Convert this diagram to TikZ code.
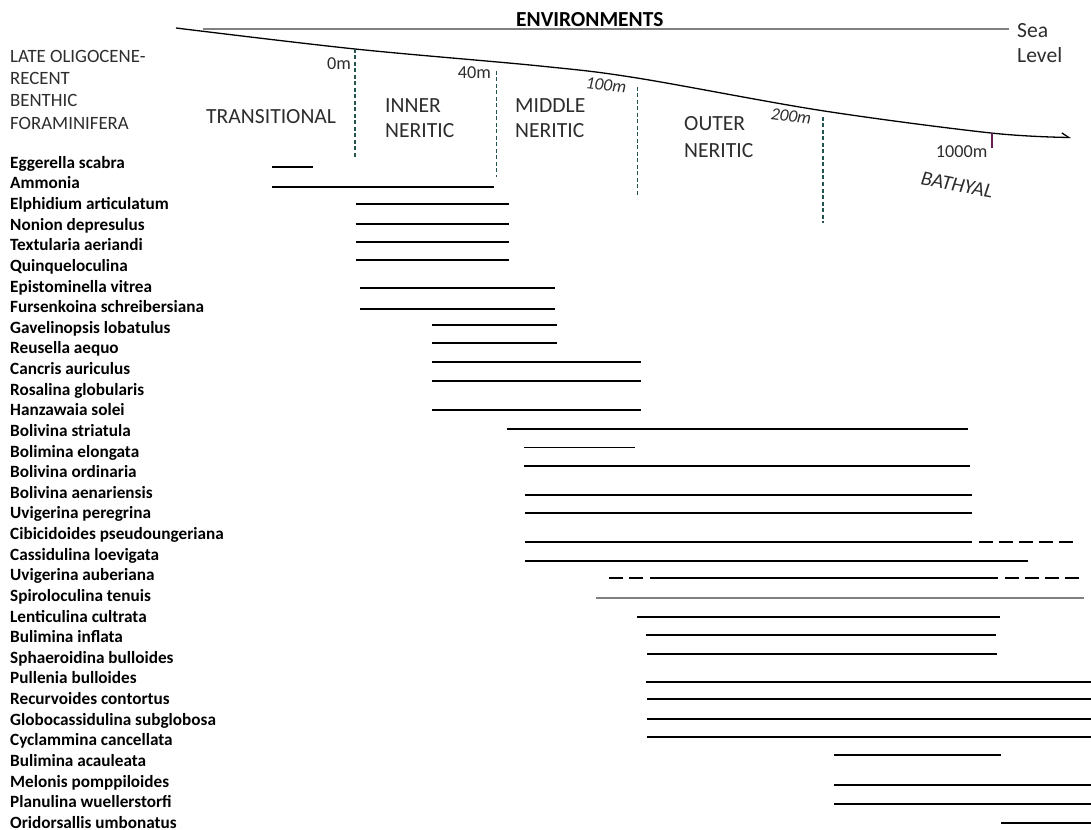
\documentclass[tikz,border=0pt]{standalone}
\usepackage{fontspec}
\setmainfont{Carlito}
\usepackage{tikz}
\usetikzlibrary{arrows.meta}
\usepackage{xcolor}
\definecolor{depthline}{RGB}{35,85,80}
\definecolor{ticktone}{RGB}{100,30,80}
\definecolor{headtext}{RGB}{45,45,45}

\begin{document}
\begin{tikzpicture}[x=1pt,y=-1pt,
			species/.style={anchor=base west,inner sep=0pt,font=\fontsize{17.2}{20}\selectfont\bfseries},
			envlabel/.style={anchor=base west,inner sep=0pt,text=headtext,font=\fontsize{21.6}{24}\selectfont},
			headlabel/.style={anchor=base west,inner sep=0pt,text=headtext,font=\fontsize{18.8}{22}\selectfont},
			depth/.style={inner sep=0pt,text=headtext,font=\fontsize{18.2}{20}\selectfont},
			rangebar/.style={line width=1.7pt},
			boundary/.style={depthline,line width=1.6pt,dash pattern=on 4pt off 2.5pt}]
			\useasboundingbox (0,0) rectangle (1091,829);
			\tikzstyle{gapped}=[rangebar,dash pattern=on 13.5pt off 6.5pt]
			\draw[gray,line width=1.2pt] (203,29) -- (1009,29);
			\node[anchor=base west,inner sep=0pt,font=\fontsize{21.4}{24}\selectfont\bfseries] (env) at (516,27) {ENVIRONMENTS};
			\node[envlabel] (sea) at (1017,37.3) {Sea};
			\node[envlabel] (level) at (1017,62.3) {Level};
			\draw[line width=1.3pt,-{Straight Barb[left,length=7pt,width=9pt]}] plot[smooth,tension=0.55] coordinates {(176,28) (355,49) (540,66) (637,78) (821,110.5) (991,133) (1071,137.5)};
			\node[headlabel] (late) at (10,62.7) {LATE OLIGOCENE-};
			\node[headlabel] (recent) at (10,84.7) {RECENT};
			\node[headlabel] (benthic) at (10,106.9) {BENTHIC};
			\node[headlabel] (foram) at (10,129.1) {FORAMINIFERA};
			\draw[boundary] (355,49) -- (355,158);
			\draw[boundary] (496.5,71) -- (496.5,177);
			\draw[boundary] (637.5,87) -- (637.5,195);
			\draw[boundary] (823,117) -- (823,223);
			\draw[ticktone,line width=1.8pt] (992.3,133) -- (992.3,148);
			\node[depth,anchor=base east] (d0) at (351,69.3) {0m};
			\node[depth,anchor=base east] (d40) at (491,78.3) {40m};
			\node[depth,font=\fontsize{17.5}{20}\selectfont\itshape,rotate=-6] (d100) at (606,85) {100m};
			\node[depth,font=\fontsize{17.5}{20}\selectfont\itshape,rotate=-7] (d200) at (791,116) {200m};
			\node[depth,anchor=base east] (d1000) at (987.5,157.3) {1000m};
			\node[envlabel] (trans) at (206,124) {TRANSITIONAL};
			\node[envlabel] (inner) at (385,112.7) {INNER};
			\node[envlabel] (innerb) at (385,137.3) {NERITIC};
			\node[envlabel] (middle) at (515,112.7) {MIDDLE};
			\node[envlabel] (middleb) at (515,137.3) {NERITIC};
			\node[envlabel] (outer) at (684,131) {OUTER};
			\node[envlabel] (outerb) at (684,157.3) {NERITIC};
			\node[depth,font=\fontsize{20.5}{24}\selectfont\itshape,rotate=-11] (bathyal) at (957,185) {BATHYAL};
			\foreach \sp [count=\i] in {Eggerella scabra,Ammonia,Elphidium articulatum,Nonion depresulus,Textularia aeriandi,Quinqueloculina,Epistominella vitrea,Fursenkoina schreibersiana,Gavelinopsis lobatulus,Reusella aequo,Cancris auriculus,Rosalina globularis,Hanzawaia solei,Bolivina striatula,Bolimina elongata,Bolivina ordinaria,Bolivina aenariensis,Uvigerina peregrina,Cibicidoides pseudoungeriana,Cassidulina loevigata,Uvigerina auberiana,Spiroloculina tenuis,Lenticulina cultrata,Bulimina inflata,Sphaeroidina bulloides,Pullenia bulloides,Recurvoides contortus,Globocassidulina subglobosa,Cyclammina cancellata,Bulimina acauleata,Melonis pomppiloides,Planulina wuellerstorfi,Oridorsallis umbonatus}
				\node[species] (sp\i) at (10,147.7+20.625*\i) {\sp};
			\foreach \a/\b/\y in {271.5/313.3/167.3,271.8/494/186.7,355.6/509/204.3,355.6/509/224,355.6/509/242,355.6/509/260,359.8/554.8/287.7,359.8/554.8/309,431.5/556.8/325,431.5/556.8/343.3,431.5/641/362,431.5/641/381,431.5/641/410,506.5/967.5/429,524/635/447.5,524/970/466,525/971.5/495,525/971.5/513,525/971.5/542,525/1028/561,650/998/577.7,637/1000/616.7,646/996/635.3,647/997/654,646/1091/682,647/1091/699.3,647/1091/719,647/1091/737.3,834/1001/755,834/1091/785,834/1091/804,1001/1091/822.7}
				\draw[rangebar] (\a,\y) -- (\b,\y);
			\draw[gapped] (979,542) -- (1073,542);
			\draw[gapped] (609,577.7) -- (642.5,577.7);
			\draw[gapped] (1005,577.7) -- (1080,577.7);
			\draw[gray,line width=1.4pt] (596,598) -- (1084,598);
		\end{tikzpicture}
\end{document}
